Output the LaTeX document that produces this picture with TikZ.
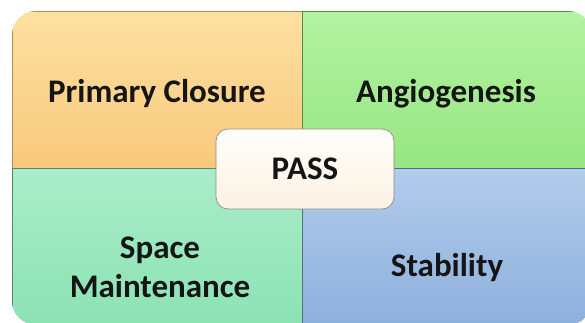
\documentclass[tikz,border=0pt]{standalone}
\usepackage{fontspec}
\setmainfont{Carlito}
\definecolor{orT}{HTML}{FDE0A2}
\definecolor{orB}{HTML}{F9C97C}
\definecolor{grT}{HTML}{B3F2A2}
\definecolor{grB}{HTML}{97E682}
\definecolor{tlT}{HTML}{A9EDCA}
\definecolor{tlB}{HTML}{8CE2B4}
\definecolor{blT}{HTML}{B2CCEB}
\definecolor{blB}{HTML}{8DB0DD}
\definecolor{psT}{HTML}{FFFEFB}
\definecolor{psB}{HTML}{FDF2E3}
\definecolor{txt}{HTML}{151515}
\tikzset{
  quad/.style={line width=0.9pt},
  lbl/.style={font=\fontsize{33}{39}\selectfont\bfseries, text=txt, align=center, inner sep=0pt},
  passbox/.style={draw=black!45, line width=0.7pt, rounded corners=12pt, top color=psT, bottom color=psB,
    minimum width=178pt, minimum height=80pt, font=\fontsize{33}{39}\selectfont\bfseries, text=txt}
}
\begin{document}
\begin{tikzpicture}[x=1pt,y=-1pt]
\useasboundingbox (0,0) rectangle (585,323);
\clip (0,0) rectangle (585,323);
\begin{scope}
  \clip[rounded corners=24pt] (12,11) rectangle (592,325);
  \path[quad, draw=orB!70!black, top color=orT, bottom color=orB] (12,11) rectangle (302,168);
  \path[quad, draw=grB!60!black, top color=grT, bottom color=grB] (302,11) rectangle (592,168);
  \path[quad, draw=tlB!60!black, top color=tlT, bottom color=tlB] (12,168) rectangle (302,325);
  \path[quad, draw=blB!60!black, top color=blT, bottom color=blB] (302,168) rectangle (592,325);
\end{scope}
\node[lbl] (pc) at (157,94) {Primary Closure};
\node[lbl] (ag) at (446,94) {Angiogenesis};
\node[lbl] (sm) at (160,267) {Space\\Maintenance};
\node[lbl] (st) at (447,268) {Stability};
\node[passbox] (pass) at (305,169) {PASS};
\end{tikzpicture}
\end{document}
